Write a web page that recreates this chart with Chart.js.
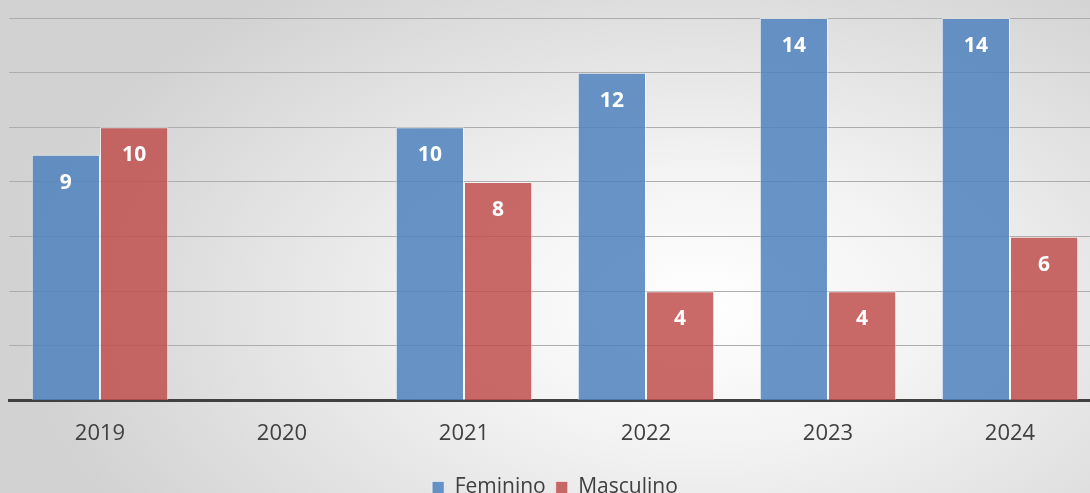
<!DOCTYPE html>
<html>
<head>
<meta charset="utf-8">
<script src="https://cdn.jsdelivr.net/npm/chart.js@4.4.1/dist/chart.umd.min.js"></script>
<style>
  html, body { margin: 0; padding: 0; overflow: hidden; }
  #wrap {
    width: 1090px; height: 493px; overflow: hidden; position: relative;
    background: radial-gradient(ellipse 62% 80% at 64% 62%, #ffffff 0%, #f3f3f3 35%, #d2d2d2 100%);
  }
  #box { position: absolute; left: 0; top: 0; width: 1120px; height: 508px; }
</style>
</head>
<body>
<div id="wrap"><div id="box"><canvas id="grafico"></canvas></div></div>
<script>
// categorias (anos)
var anos = ['2019', '2020', '2021', '2022', '2023', '2024'];
// valores por série
var feminino = [9, null, 10, 12, 14, 14];
var masculino = [10, null, 8, 4, 4, 6];

// rótulos brancos dentro das barras
var rotulos = {
    id: 'rotulos',
    afterDatasetsDraw: function(chart) {
        var ctx = chart.ctx;
        ctx.save();
        ctx.fillStyle = '#ffffff';
        ctx.font = 'bold 21px "Open Sans"';
        ctx.textAlign = 'center';
        ctx.textBaseline = 'middle';
        chart.data.datasets.forEach(function(ds, i) {
            chart.getDatasetMeta(i).data.forEach(function(bar, j) {
                if (ds.data[j] == null) return;
                ctx.fillText(ds.data[j], bar.x, bar.y + 28);
            });
        });
        ctx.restore();
    }
};

var ctx = document.getElementById('grafico').getContext('2d');
new Chart(ctx, {
    type: 'bar',
    data: {
        labels: anos,
        datasets: [{
            label: 'Feminino',
            data: feminino,
            backgroundColor: 'rgba(79,129,189,0.85)',
            borderColor: 'rgba(255,255,255,0.55)',
            borderWidth: 1
        }, {
            label: 'Masculino',
            data: masculino,
            backgroundColor: 'rgba(192,80,77,0.85)',
            borderColor: 'rgba(255,255,255,0.55)',
            borderWidth: 1
        }]
    },
    options: {
        responsive: true,
        maintainAspectRatio: false,
        animation: false,
        layout: { padding: { left: 9, right: 19, top: 18, bottom: 0 } },
        datasets: { bar: { categoryPercentage: 0.75, barPercentage: 1.0 } },
        scales: {
            x: {
                grid: { display: false, drawTicks: false },
                border: { color: '#404040', width: 3 },
                ticks: { color: '#404040', font: { family: 'Open Sans', size: 22 }, padding: 20 }
            },
            y: {
                min: 0,
                max: 14,
                ticks: { display: false, stepSize: 2 },
                border: { display: false },
                grid: { color: '#adadad', lineWidth: 1, drawTicks: false }
            }
        },
        plugins: {
            legend: {
                position: 'bottom',
                labels: {
                    color: '#404040',
                    font: { family: 'Open Sans', size: 21 },
                    boxWidth: 12,
                    boxHeight: 12,
                    padding: 10
                }
            },
            tooltip: { enabled: false }
        }
    },
    plugins: [rotulos]
});
</script>
</body>
</html>
